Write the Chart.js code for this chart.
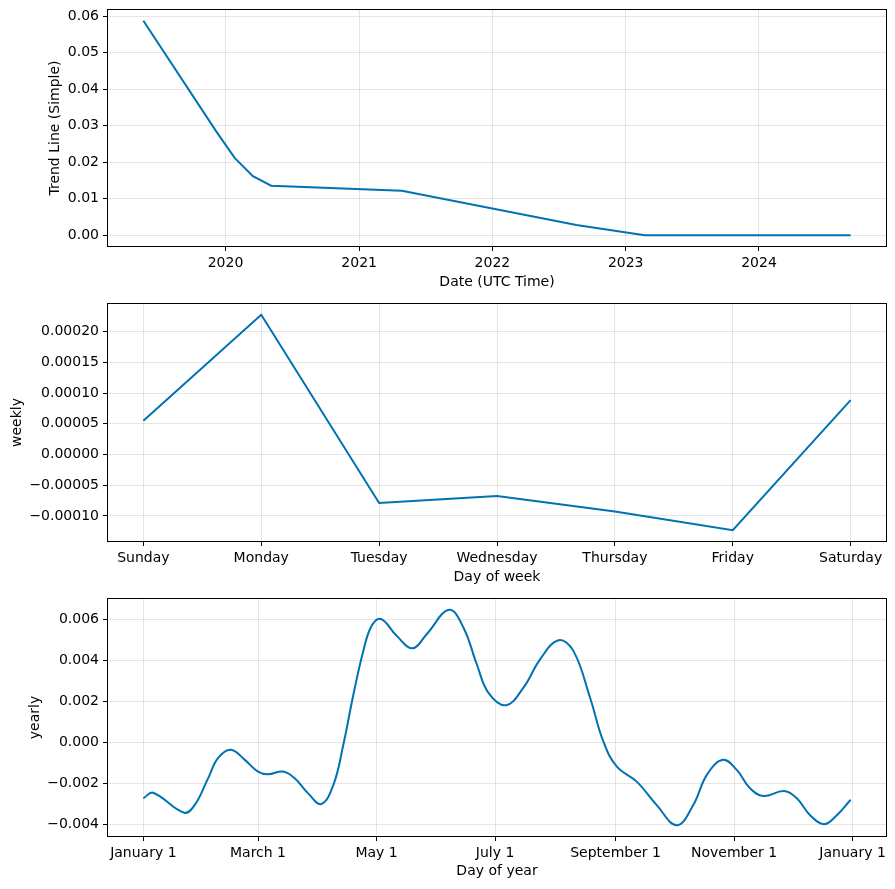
<!DOCTYPE html>
<html>
<head>
<meta charset="utf-8">
<script src="https://cdn.jsdelivr.net/npm/chart.js@4.4.1/dist/chart.umd.min.js"></script>
<style>
  html, body { margin: 0; padding: 0; background: #fff; }
  #wrap { position: relative; width: 895px; height: 889px; }
  canvas { position: absolute; left: 0; }
</style>
</head>
<body>
<div id="wrap">
  <canvas id="trend" width="895" height="296" style="top:0px"></canvas>
  <canvas id="weekly" width="895" height="296" style="top:296px"></canvas>
  <canvas id="yearly" width="895" height="297" style="top:592px"></canvas>
</div>
<script>
// trend component
const trendDates = ["2019-05-21", "2019-12-07", "2020-01-26", "2020-03-16", "2020-05-05",
                    "2021-04-28", "2022-08-19", "2023-02-22", "2024-09-08"];
const trendValues = [0.0588, 0.0284, 0.0212, 0.0162, 0.0136, 0.0122, 0.0028, 0.0000, 0.0000];
const trendTickYears = [2020, 2021, 2022, 2023, 2024];
const trendYTicks = [0, 0.01, 0.02, 0.03, 0.04, 0.05, 0.06];

// weekly component
const weekDays = ["Sunday", "Monday", "Tuesday", "Wednesday", "Thursday", "Friday", "Saturday"];
const weeklyValues = [0.0000548, 0.0002276, -0.0000789, -0.0000675, -0.0000930, -0.0001234, 0.0000885];
const weeklyYTicks = [-0.0001, -0.00005, 0, 0.00005, 0.0001, 0.00015, 0.0002];

// yearly component (day of year -> value)
const yearDays = [0, 5, 21, 26.4, 33.3, 38.4, 45, 52.2, 59, 64.2, 71.9, 77.9, 84.8, 91.5, 97.8,
                  102.9, 108.1, 113.2, 117.5, 122.3, 130.4, 138.5, 145.8, 157.3, 164.7, 171.6,
                  177.6, 186.7, 195.6, 204.2, 213.6, 221.3, 229.9, 236.7, 243.6, 253.9, 264.2,
                  274.5, 283, 290, 298.2, 305.4, 312.2, 319.1, 329.7, 336.3, 343.1, 350.3, 356.9, 364];
const yearlyValues = [-0.00272, -0.00245, -0.00342, -0.00305, -0.00175, -0.00077, -0.00036, -0.00085,
                      -0.00142, -0.00155, -0.00142, -0.00175, -0.00248, -0.00300, -0.00207, -0.00012,
                      0.00233, 0.00445, 0.00567, 0.00600, 0.00518, 0.00458, 0.00526, 0.00645, 0.00559,
                      0.00380, 0.00241, 0.00181, 0.00266, 0.00404, 0.00497, 0.00445, 0.00217, 0.00005,
                      -0.00117, -0.00191, -0.00305, -0.00403, -0.00305, -0.00158, -0.00085, -0.00134,
                      -0.00223, -0.00261, -0.00237, -0.00272, -0.00354, -0.00398, -0.00354, -0.00279];
const yearTickDays = [0, 59, 120, 181, 243, 304, 365];
const yearTickLabels = ["January 1", "March 1", "May 1", "July 1", "September 1", "November 1", "January 1"];
const yearlyYTicks = [-0.004, -0.002, 0, 0.002, 0.004, 0.006];

Chart.defaults.font.family = "'DejaVu Sans', sans-serif";
Chart.defaults.font.size = 14;
Chart.defaults.color = "#000";

const LINE = "#0072B2";
const GRID = "rgba(128,128,128,0.2)";

// black box round the plot area, like matplotlib spines
const frame = {
    id: "frame",
    afterDraw(chart) {
        const a = chart.chartArea, c = chart.ctx;
        const l = Math.round(a.left) - 0.5, t = Math.round(a.top) - 0.5;
        const r = Math.round(a.right) + 0.5, b = Math.round(a.bottom) + 0.5;
        c.save();
        c.strokeStyle = "#000";
        c.lineWidth = 1;
        c.strokeRect(l, t, r - l, b - t);
        c.restore();
    }
};

// matplotlib-like 5% margins
function margins(vals) {
    const lo = Math.min(...vals), hi = Math.max(...vals), m = (hi - lo) * 0.05;
    return [lo - m, hi + m];
}
const minus = s => s.replace("-", "\u2212");

function panel(id, p) {
    const [xMin, xMax] = margins(p.xs);
    const [yMin, yMax] = margins(p.ys);
    new Chart(document.getElementById(id), {
        type: "line",
        data: {
            datasets: [{
                data: p.xs.map((x, i) => ({ x: x, y: p.ys[i] })),
                borderColor: LINE,
                borderWidth: 2,
                pointRadius: 0,
                fill: false,
                tension: p.smooth ? 0.4 : 0
            }]
        },
        options: {
            responsive: false,
            animation: false,
            devicePixelRatio: 1,
            layout: { padding: { left: p.padLeft, top: p.padTop, right: 9, bottom: 0 } },
            plugins: { legend: { display: false }, tooltip: { enabled: false } },
            scales: {
                x: {
                    type: "linear", min: xMin, max: xMax,
                    afterBuildTicks: s => { s.ticks = p.xTicks.map(v => ({ value: v })); },
                    afterFit: s => { s.height = p.xHeight; s.paddingLeft = 0; s.paddingRight = 0; },
                    ticks: { callback: (v, i) => p.xLabels[i], padding: 4, maxRotation: 0, autoSkip: false },
                    grid: { color: GRID, tickColor: "#000", tickLength: 5, lineWidth: 1 },
                    border: { display: false },
                    title: { display: true, text: p.xTitle, padding: { top: 0, bottom: p.xTitlePad } }
                },
                y: {
                    type: "linear", min: yMin, max: yMax,
                    afterBuildTicks: s => { s.ticks = p.yTicks.map(v => ({ value: v })); },
                    afterFit: s => { s.width = p.yWidth; s.paddingTop = 0; s.paddingBottom = 0; },
                    ticks: { callback: v => minus(v.toFixed(p.yDigits)), padding: 4, autoSkip: false },
                    grid: { color: GRID, tickColor: "#000", tickLength: 5, lineWidth: 1 },
                    border: { display: false },
                    title: { display: true, text: p.yTitle, padding: { top: 4, bottom: 0 } }
                }
            }
        },
        plugins: [frame]
    });
}

panel("trend", {
    xs: trendDates.map(d => Date.parse(d + "T00:00:00Z")),
    ys: trendValues,
    xTicks: trendTickYears.map(y => Date.UTC(y, 0, 1)),
    xLabels: trendTickYears.map(String),
    yTicks: trendYTicks, yDigits: 2,
    xTitle: "Date (UTC Time)", yTitle: "Trend Line (Simple)",
    padLeft: 43, yWidth: 65, padTop: 10, xHeight: 50, xTitlePad: 5.6, smooth: false
});

panel("weekly", {
    xs: weekDays.map((d, i) => i),
    ys: weeklyValues,
    xTicks: weekDays.map((d, i) => i),
    xLabels: weekDays,
    yTicks: weeklyYTicks, yDigits: 5,
    xTitle: "Day of week", yTitle: "weekly",
    padLeft: 5, yWidth: 103, padTop: 8, xHeight: 51, xTitlePad: 6.6, smooth: false
});

panel("yearly", {
    xs: yearDays,
    ys: yearlyValues,
    xTicks: yearTickDays,
    xLabels: yearTickLabels,
    yTicks: yearlyYTicks, yDigits: 3,
    xTitle: "Day of year", yTitle: "yearly",
    padLeft: 23, yWidth: 85, padTop: 7, xHeight: 53, xTitlePad: 9.6, smooth: true
});
</script>
</body>
</html>
